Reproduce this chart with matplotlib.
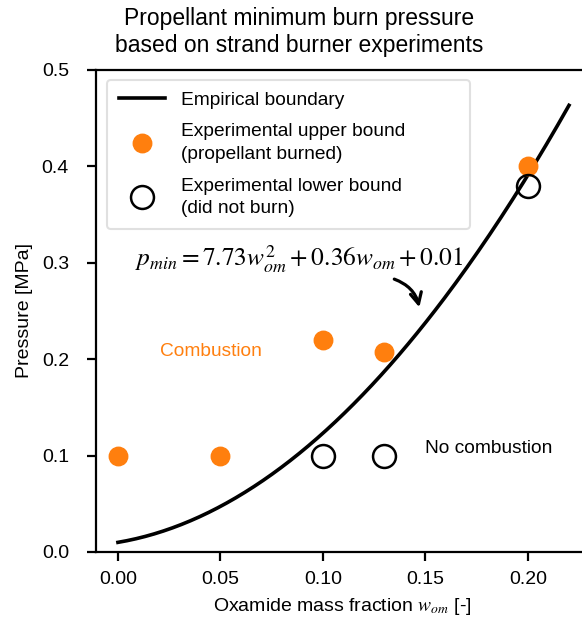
import numpy as np
import matplotlib
matplotlib.use("Agg")
import matplotlib.pyplot as plt

plt.rcParams["font.family"] = ["Liberation Sans", "DejaVu Sans"]
plt.rcParams["mathtext.fontset"] = "stix"

# experimental data
burned_w = [0.00, 0.05, 0.10, 0.13, 0.20]
burned_p = [0.10, 0.10, 0.22, 0.207, 0.40]
noburn_w = [0.10, 0.13, 0.20]
noburn_p = [0.10, 0.10, 0.38]

# fitted boundary coefficients (p = a*w^2 + b*w + c)
fit_coeffs = [7.73, 0.36, 0.01]
fit_range = [0.0, 0.22]

orange = "#ff7f0e"

fig = plt.figure(figsize=(5.82, 6.24), dpi=100)
ax = fig.add_axes([96 / 582, 1 - 552 / 624, 493.5 / 582, 482 / 624])

w = np.linspace(fit_range[0], fit_range[1], 200)
ax.plot(w, np.polyval(fit_coeffs, w), color="black", lw=2.6, label="Empirical boundary")
ax.plot(burned_w, burned_p, "o", color=orange, ms=13.3, ls="none",
        label="Experimental upper bound\n(propellant burned)")
ax.plot(noburn_w, noburn_p, "o", mfc="none", mec="black", mew=1.8, ms=16.5, ls="none",
        label="Experimental lower bound\n(did not burn)")

ax.annotate("", xy=(0.1473, 0.251), xytext=(0.1335, 0.284),
            arrowprops=dict(arrowstyle="->", color="black", lw=2.3,
                            connectionstyle="arc3,rad=-0.3", mutation_scale=20))
ax.text(0.0085, 0.296, r"$p_{min} = 7.73w_{om}^2 + 0.36w_{om} + 0.01$", fontsize=18.3)
ax.text(0.0454, 0.2075, "Combustion", color=orange, fontsize=13.8, ha="center", va="center")
ax.text(0.181, 0.107, "No combustion", color="black", fontsize=13.8, ha="center", va="center")

ax.set_xlim(-0.0107, 0.23)
ax.set_ylim(0, 0.5)
ax.set_xticks([0.0, 0.05, 0.10, 0.15, 0.20])
ax.set_yticks([0.0, 0.1, 0.2, 0.3, 0.4, 0.5])
ax.set_xticklabels(["0.00", "0.05", "0.10", "0.15", "0.20"])
ax.tick_params(labelsize=14, width=1.6, length=6.5)
ax.tick_params(axis="x", pad=7)
ax.tick_params(axis="y", pad=13)
for s in ax.spines.values():
    s.set_linewidth(1.6)

ax.set_xlabel(r"Oxamide mass fraction $w_{om}$ [-]", fontsize=14, labelpad=6)
ax.set_ylabel("Pressure [MPa]", fontsize=14, labelpad=6)
fig.text(299 / 582, 1 - 32 / 624, "Propellant minimum burn pressure\nbased on strand burner experiments",
         ha="center", va="center", fontsize=16.5, linespacing=1.25)

# legend box spans a fixed width like the original
leg = ax.legend(loc="upper left", fontsize=13.8, frameon=True, edgecolor="#d9d9d9",
                handlelength=2.45, borderpad=0.6, labelspacing=0.75, handletextpad=0.8,
                borderaxespad=0, mode="expand",
                bbox_to_anchor=(0.0223, 0.676, 0.7356, 0.303))
leg.get_frame().set_linewidth(1.5)
for t in leg.get_texts():
    t.set_linespacing(1.45)

fig.savefig("out.png", dpi=100)
